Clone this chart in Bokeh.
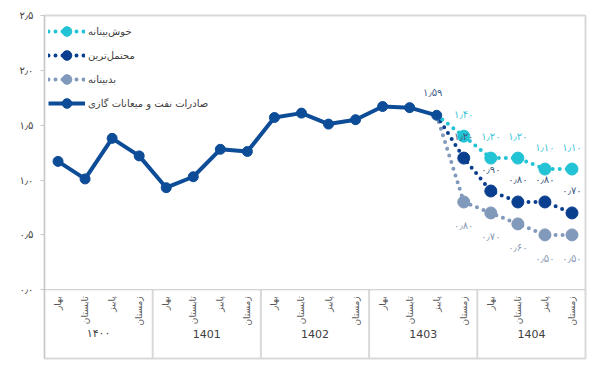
import math
from bokeh.plotting import figure
from bokeh.models import (FactorRange, Range1d, Legend, LegendItem,
                          FixedTicker, Span, InlineStyleSheet)
from bokeh.embed import file_html
from bokeh.resources import INLINE
from bokeh.core.properties import value

# ---------------- data ----------------
years = ["۱۴۰۰", "1401", "1402", "1403", "1404"]
seasons = ["بهار", "تابستان", "پاییز", "زمستان"]

actual = [1.17, 1.01, 1.38, 1.22, 0.93, 1.03, 1.28, 1.26,
          1.57, 1.61, 1.51, 1.55, 1.67, 1.66, 1.59]
forecast_start = 14
optimistic = [1.59, 1.40, 1.20, 1.20, 1.10, 1.10]
likely = [1.59, 1.20, 0.90, 0.80, 0.80, 0.70]
pessimistic = [1.59, 0.80, 0.70, 0.60, 0.50, 0.50]

y_ticks = [0.0, 0.5, 1.0, 1.5, 2.0, 2.5]
y_tick_labels = ["۰٫۰", "۰٫۵", "۱٫۰", "۱٫۵", "۲٫۰", "۲٫۵"]

name_opt = "خوش\u200cبینانه"
name_lik = "محتمل\u200cترین"
name_pes = "بدبینانه"
name_act = "صادرات نفت و میعانات گازی"

# ---------------- styles ----------------
C_ACT = "#0d4c97"
C_OPT = "#22c3d5"
C_LIK = "#0a3e8e"
C_PES = "#8199ba"
GRID = "#d9d9d9"
FONT = "DejaVu Sans"
Y_MIN = -0.627

FA = str.maketrans("0123456789.", "۰۱۲۳۴۵۶۷۸۹٫")


def fa(v):
    return f"{v:.2f}".translate(FA)


factors = [(y, s) for y in years for s in seasons]
x_act = factors[:len(actual)]
x_fc = factors[forecast_start:forecast_start + len(optimistic)]

p = figure(width=594, height=364,
           x_range=FactorRange(factors=factors, factor_padding=0,
                               group_padding=0, range_padding=0),
           y_range=Range1d(Y_MIN, 2.5),
           output_backend="svg", toolbar_location=None,
           x_axis_location=None,
           min_border_left=44, min_border_right=9,
           min_border_top=15, min_border_bottom=6)
# outer chart border
p.stylesheets = [InlineStyleSheet(
    css=":host { outline: 2px solid #d9d9d9; outline-offset: -6px; }")]
p.xgrid.visible = False
p.ygrid.visible = False
p.outline_line_color = GRID
p.outline_line_width = 2
p.background_fill_color = "white"

ax = p.yaxis[0]
ax.ticker = FixedTicker(ticks=y_ticks)
ax.major_label_overrides = {t: l for t, l in zip(y_ticks, y_tick_labels)}
ax.axis_line_color = "#c8c8c8"
ax.major_tick_line_color = "#c8c8c8"
ax.minor_tick_line_color = None
ax.major_tick_in = 0
ax.major_tick_out = 4
ax.major_label_standoff = 7
ax.major_label_text_font = FONT
ax.major_label_text_font_size = "10px"
ax.major_label_text_color = "#404040"

p.add_layout(Span(location=0, dimension="width", line_color="#c8c8c8",
                  line_width=1))

# category labels below the zero line
n_s = len(seasons)
sep_x = [n_s * i for i in range(1, len(years))]
p.segment(x0=sep_x, x1=sep_x, y0=[Y_MIN] * len(sep_x), y1=[0] * len(sep_x),
          line_color=GRID, line_width=2)
p.text(x=factors, y=[-0.06] * len(factors),
       text=[f[1] for f in factors], angle=math.pi / 2,
       text_align="right", text_baseline="middle",
       text_font=value(FONT), text_font_size="9px", text_color="#595959")
p.text(x=years, y=[-0.40] * len(years), text=years,
       text_align="center", text_baseline="middle",
       text_font=value(FONT), text_font_size="11px", text_color="#404040")

# forecasts
renders = {}
for name, vals, col in [(name_pes, pessimistic, C_PES),
                        (name_lik, likely, C_LIK),
                        (name_opt, optimistic, C_OPT)]:
    ln = p.line(x_fc, vals, line_color=col, line_width=4, line_dash="0 7",
                line_cap="round")
    sc = p.scatter(x_fc[1:], vals[1:], size=12, fill_color=col,
                   line_color=col)
    renders[name] = [ln, sc]

# actual
la = p.line(x_act, actual, line_color=C_ACT, line_width=4, line_join="round")
sa = p.scatter(x_act, actual, size=10, fill_color=C_ACT, line_color=C_ACT)

# data labels
p.text(x=[x_act[-1]], y=[actual[-1]], text=[fa(actual[-1])], x_offset=-4,
       y_offset=-23, text_align="center", text_baseline="middle",
       text_font=value(FONT), text_font_size="10px", text_color="#42608e")
for vals, col, off in [(optimistic, "#3cc6d6", -22), (likely, "#3f5a80", -22),
                       (pessimistic, "#8899b3", 24)]:
    p.text(x=x_fc[1:], y=vals[1:], text=[fa(v) for v in vals[1:]],
           y_offset=off, text_align="center", text_baseline="middle",
           text_font=value(FONT), text_font_size="10px", text_color=col)

legend = Legend(items=[LegendItem(label=name_opt, renderers=renders[name_opt]),
                       LegendItem(label=name_lik, renderers=renders[name_lik]),
                       LegendItem(label=name_pes, renderers=renders[name_pes]),
                       LegendItem(label=name_act, renderers=[la, sa])],
                location="top_left", margin=0, padding=4, spacing=0,
                glyph_width=37, glyph_height=24, label_height=24,
                label_standoff=3, border_line_alpha=0,
                background_fill_alpha=0,
                label_text_font=FONT, label_text_font_size="10px",
                label_text_color="#404040")
p.add_layout(legend)

open("out.html", "w").write(file_html(p, INLINE))
